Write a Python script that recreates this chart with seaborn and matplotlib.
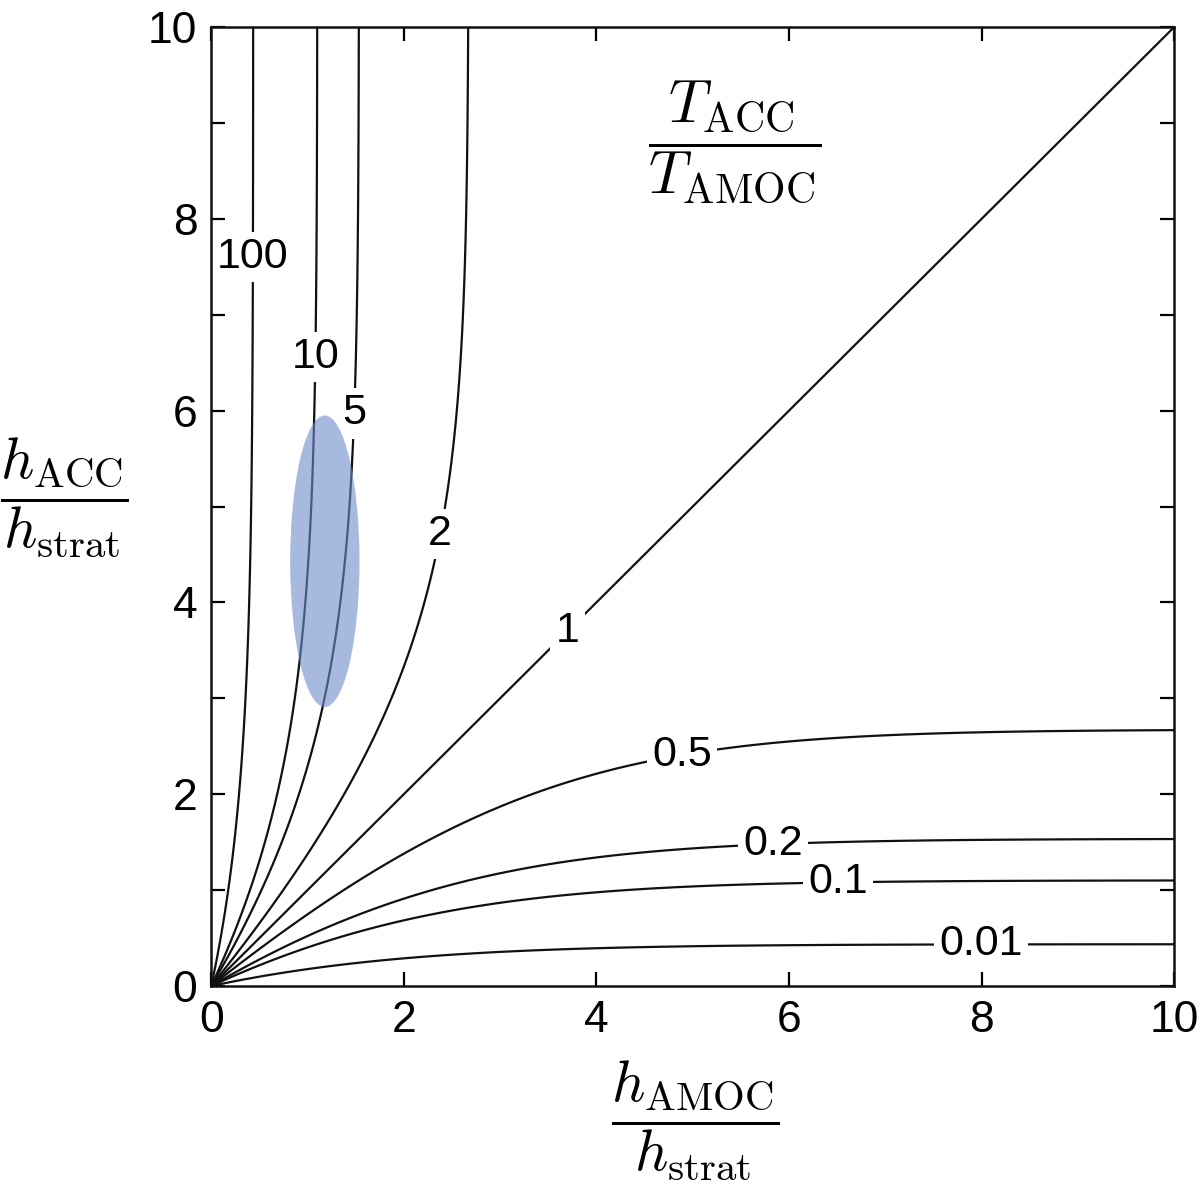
import numpy as np
import matplotlib
matplotlib.use("Agg")
import matplotlib.pyplot as plt
import seaborn as sns
from matplotlib.patches import Ellipse

# contour levels of T_ACC / T_AMOC and their label text
levels = [0.01, 0.1, 0.2, 0.5, 1, 2, 5, 10, 100]
level_text = ["0.01", "0.1", "0.2", "0.5", "1", "2", "5", "10", "100"]

# where each label sits (data coords)
label_x = [7.99, 6.51, 5.83, 4.89, 3.71, 2.35, 1.52, 1.04, 0.44]
label_y = [0.43, 1.05, 1.52, 2.39, 3.69, 4.72, 5.97, 6.56, 7.60]

# shaded observational range
ell_center = (1.18, 4.43)
ell_width = 0.72
ell_height = 3.04

sns.set_theme(style="ticks")
plt.rcParams["font.family"] = ["Liberation Sans", "DejaVu Sans"]
plt.rcParams["mathtext.fontset"] = "cm"
plt.rcParams["text.color"] = "black"


def transport(h):
    # fraction of transport above depth h (exponential stratification model)
    return 1.0 - np.exp(-h) * (1.0 + h + 0.5 * h**2)


h = np.linspace(0.002, 10, 900)
X, Y = np.meshgrid(h, h)
ratio = transport(Y) / transport(X)

fig = plt.figure(figsize=(12, 11.87), dpi=100)
ax = fig.add_axes([0.176, 0.1693, 0.8025, 0.8079])

cs = ax.contour(X, Y, np.log10(ratio), levels=np.log10(levels),
                colors="#111111", linewidths=1.6, linestyles="solid",
                negative_linestyles="solid", zorder=2)
fmt = {lv: txt for lv, txt in zip(cs.levels, level_text)}
texts = ax.clabel(cs, inline=False, fmt=fmt, fontsize=31,
                  manual=list(zip(label_x, label_y)))
for t in texts:
    t.set_rotation(0)
    t.set_color("black")
    t.set_zorder(5)
    t.set_bbox(dict(boxstyle="square,pad=0.12", fc="white", ec="none"))

ax.add_patch(Ellipse(ell_center, ell_width, ell_height,
                     fc="#6f8bcc", ec="none", alpha=0.6, zorder=6))

ax.set_xlim(0, 10)
ax.set_ylim(0, 10)
ax.set_xticks(np.arange(0, 11, 2))
ax.set_yticks(np.arange(0, 11, 1))
ax.set_yticklabels([str(v) if v % 2 == 0 else "" for v in range(11)])
ax.tick_params(direction="in", length=10, width=1.6, labelsize=32,
               top=True, right=True, pad=10, colors="black")
for s in ax.spines.values():
    s.set_linewidth(1.8)
    s.set_color("#111111")
    s.set_visible(True)
    s.set_zorder(8)

ax.text(5.43, 8.81, r"$\dfrac{T_{\rm ACC}}{T_{\rm AMOC}}$", fontsize=43,
        ha="center", va="center", zorder=7, color="black")
fig.text(64 / 1200, 1 - 498 / 1187, r"$\dfrac{h_{\rm ACC}}{h_{\rm strat}}$",
         fontsize=42, ha="center", va="center", color="black")
fig.text(695 / 1200, 1 - 1121 / 1187, r"$\dfrac{h_{\rm AMOC}}{h_{\rm strat}}$",
         fontsize=42, ha="center", va="center", color="black")

fig.savefig("out.png", dpi=100, facecolor="white")
